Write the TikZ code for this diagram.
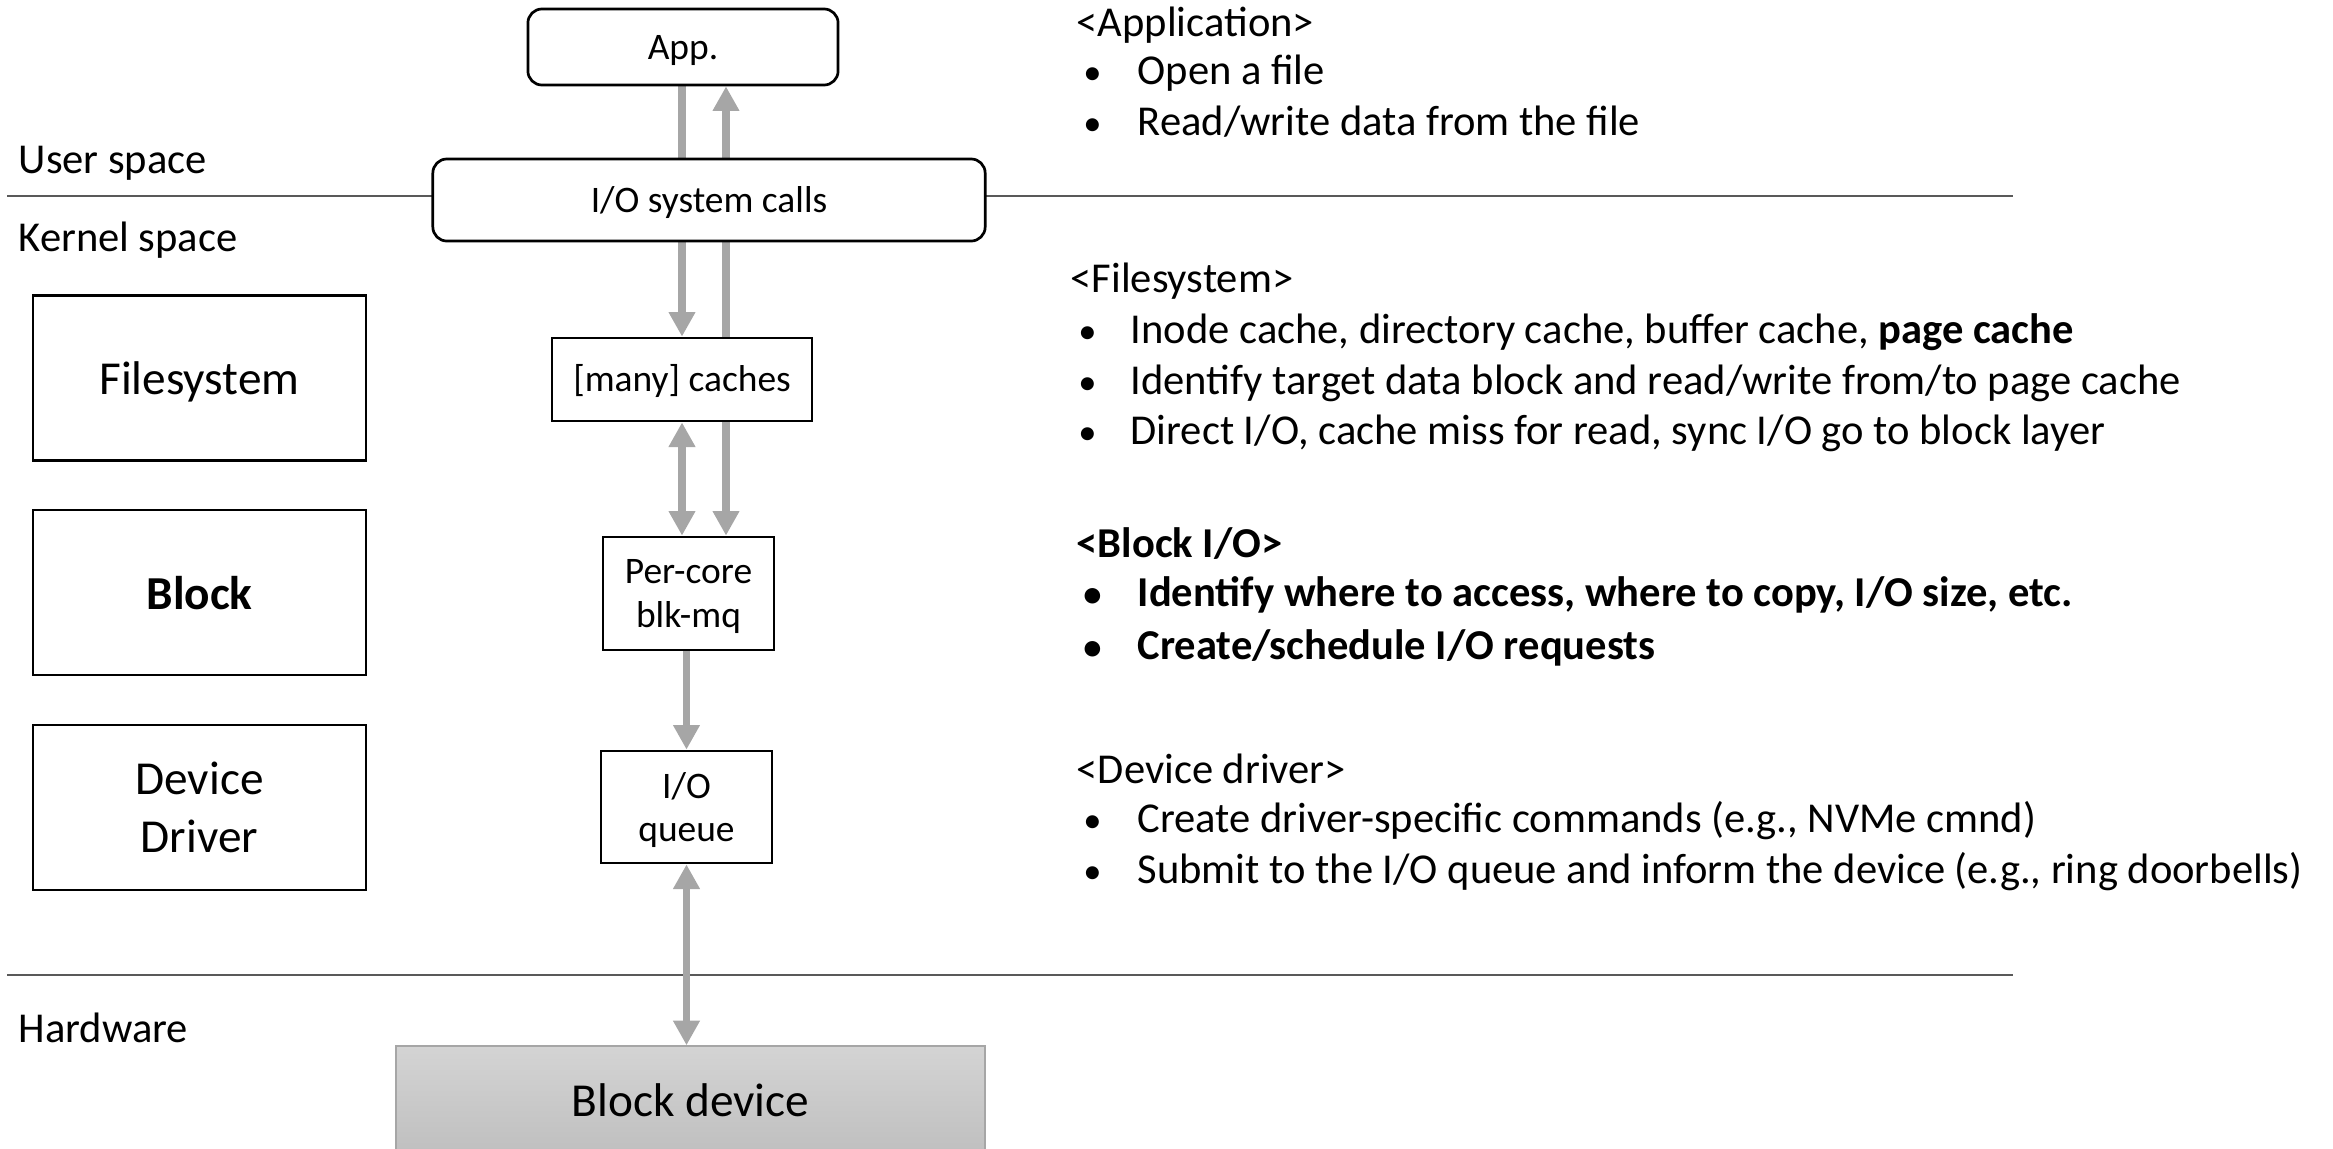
\documentclass[tikz,border=0pt]{standalone}
\usepackage{fontspec}
\setmainfont{Carlito}
\usetikzlibrary{arrows.meta,backgrounds,calc}
\definecolor{flowgray}{HTML}{A6A6A6}
\definecolor{rulegray}{HTML}{595959}
\definecolor{devtop}{HTML}{D4D4D4}
\definecolor{devbot}{HTML}{BFBFBF}
% font sizes used in the stack diagram
\newcommand\ionote{\fontsize{12.1}{14.5}\selectfont}
\newcommand\iomid{\fontsize{10.65}{12.5}\selectfont}
\newcommand\iolayer{\fontsize{13.45}{16.5}\selectfont}
% bullet for the note lists
\newcommand\iobul[1]{\makebox[#1][l]{\hspace{0.04em}\scalebox{0.86}{•}}}
\tikzset{
  box/.style={draw=black, line width=0.77pt, fill=white, inner sep=0pt, align=center, text depth=0pt},
  rbox/.style={box, rounded corners=0.14cm},
  layerbox/.style={box, minimum width=3.33cm, minimum height=1.65cm},
  flow/.style={draw=flowgray, line width=2.1pt, -{Triangle[width=7.2pt,length=7pt]}},
  flowboth/.style={draw=flowgray, line width=2.1pt, {Triangle[width=7.2pt,length=7pt]}-{Triangle[width=7.2pt,length=7pt]}},
  sepline/.style={draw=rulegray, line width=0.6pt},
  note/.style={anchor=base west, inner sep=0pt, font=\ionote},
}
\begin{document}
\begin{tikzpicture}[x=0.01cm, y=-0.01cm]
\useasboundingbox (0,0) rectangle (2333,1148);

% space labels
\node[note] (user) at (18,173) {User space};
\node[note] (kernel) at (18,251) {Kernel space};
\node[note] (hw) at (18,1042) {Hardware};
\coordinate (sepL1) at (7,196);
\coordinate (sepR1) at (2013,196);
\coordinate (sepL2) at (7,975);
\coordinate (sepR2) at (2013,975);

% layer boxes on the left
\node[layerbox, font=\iolayer] (fs) at (199.5,378) {Filesystem};
\node[layerbox, font=\iolayer\bfseries] (blk) at (199.5,592.5) {Block};
\node[layerbox, font=\iolayer] (dd) at (199.5,807.5) {Device\\Driver};

% I/O path in the middle
\node[rbox, minimum width=3.10cm, minimum height=0.76cm, font=\iomid, text height=0.7em] (app) at (683,47) {App.};
\node[rbox, minimum width=5.52cm, minimum height=0.82cm, font=\iomid, text height=0.7em] (sysc) at (709,200) {I/O system calls};
\node[box, minimum width=2.60cm, minimum height=0.83cm, font=\iomid, text height=0.7em] (cache) at (682,379.5) {[many] caches};
\node[box, minimum width=1.71cm, minimum height=1.13cm, font=\iomid] (blkmq) at (688.5,593.5) {Per-core\\blk-mq};
\node[box, minimum width=1.71cm, minimum height=1.12cm, font=\iomid] (ioq) at (686.5,807) {I/O\\queue};
\node[draw=flowgray, line width=0.4pt, top color=devtop, bottom color=devbot,
      minimum width=5.89cm, minimum height=1.09cm, inner sep=0pt, font=\iolayer] (blkdev) at (690.5,1100.5) {Block device};
\coordinate (rcol) at (726,0);

% separators and arrows behind the boxes
\begin{pgfonlayer}{background}
  \draw[sepline] (sepL1) -- (sepR1);
  \draw[sepline] (sepL2) -- (sepR2);
  \draw[flow] (cache.north |- app.south) -- (cache.north);
  \draw[flow] (rcol |- sysc.north) -- (rcol |- app.south);
  \draw[flow] (rcol |- sysc.south) -- (rcol |- blkmq.north);
  \draw[flowboth] (cache.south) -- (cache.south |- blkmq.north);
  \draw[flow] (ioq.north |- blkmq.south) -- (ioq.north);
  \draw[flowboth] (ioq.south) -- (ioq.south |- blkdev.north);
\end{pgfonlayer}

% notes on the right
\node[note] (appH) at (1076,36) {<Application>};
\node[note] (app1) at (1081,84) {\iobul{0.56cm}Open a file};
\node[note] (app2) at (1081,135) {\iobul{0.56cm}Read/write data from the file};

\node[note] (fsH) at (1070,292) {<Filesystem>};
\node[note] (fs1) at (1076,343) {\iobul{0.54cm}Inode cache, directory cache, buffer cache, \textbf{page cache}};
\node[note] (fs2) at (1076,394) {\iobul{0.54cm}Identify target data block and read/write from/to page cache};
\node[note] (fs3) at (1076,444) {\iobul{0.54cm}Direct I/O, cache miss for read, sync I/O go to block layer};

\node[note, font=\ionote\bfseries] (blkH) at (1076,557) {<Block I/O>};
\node[note, font=\ionote\bfseries] (blk1) at (1081,606) {\iobul{0.56cm}Identify where to access, where to copy, I/O size, etc.};
\node[note, font=\ionote\bfseries] (blk2) at (1081,659) {\iobul{0.56cm}Create/schedule I/O requests};

\node[note] (ddH) at (1076,783) {<Device driver>};
\node[note] (dd1) at (1081,832) {\iobul{0.56cm}Create driver-specific commands (e.g., NVMe cmnd)};
\node[note] (dd2) at (1081,883) {\iobul{0.56cm}Submit to the I/O queue and inform the device (e.g., ring doorbells)};
\end{tikzpicture}
\end{document}
